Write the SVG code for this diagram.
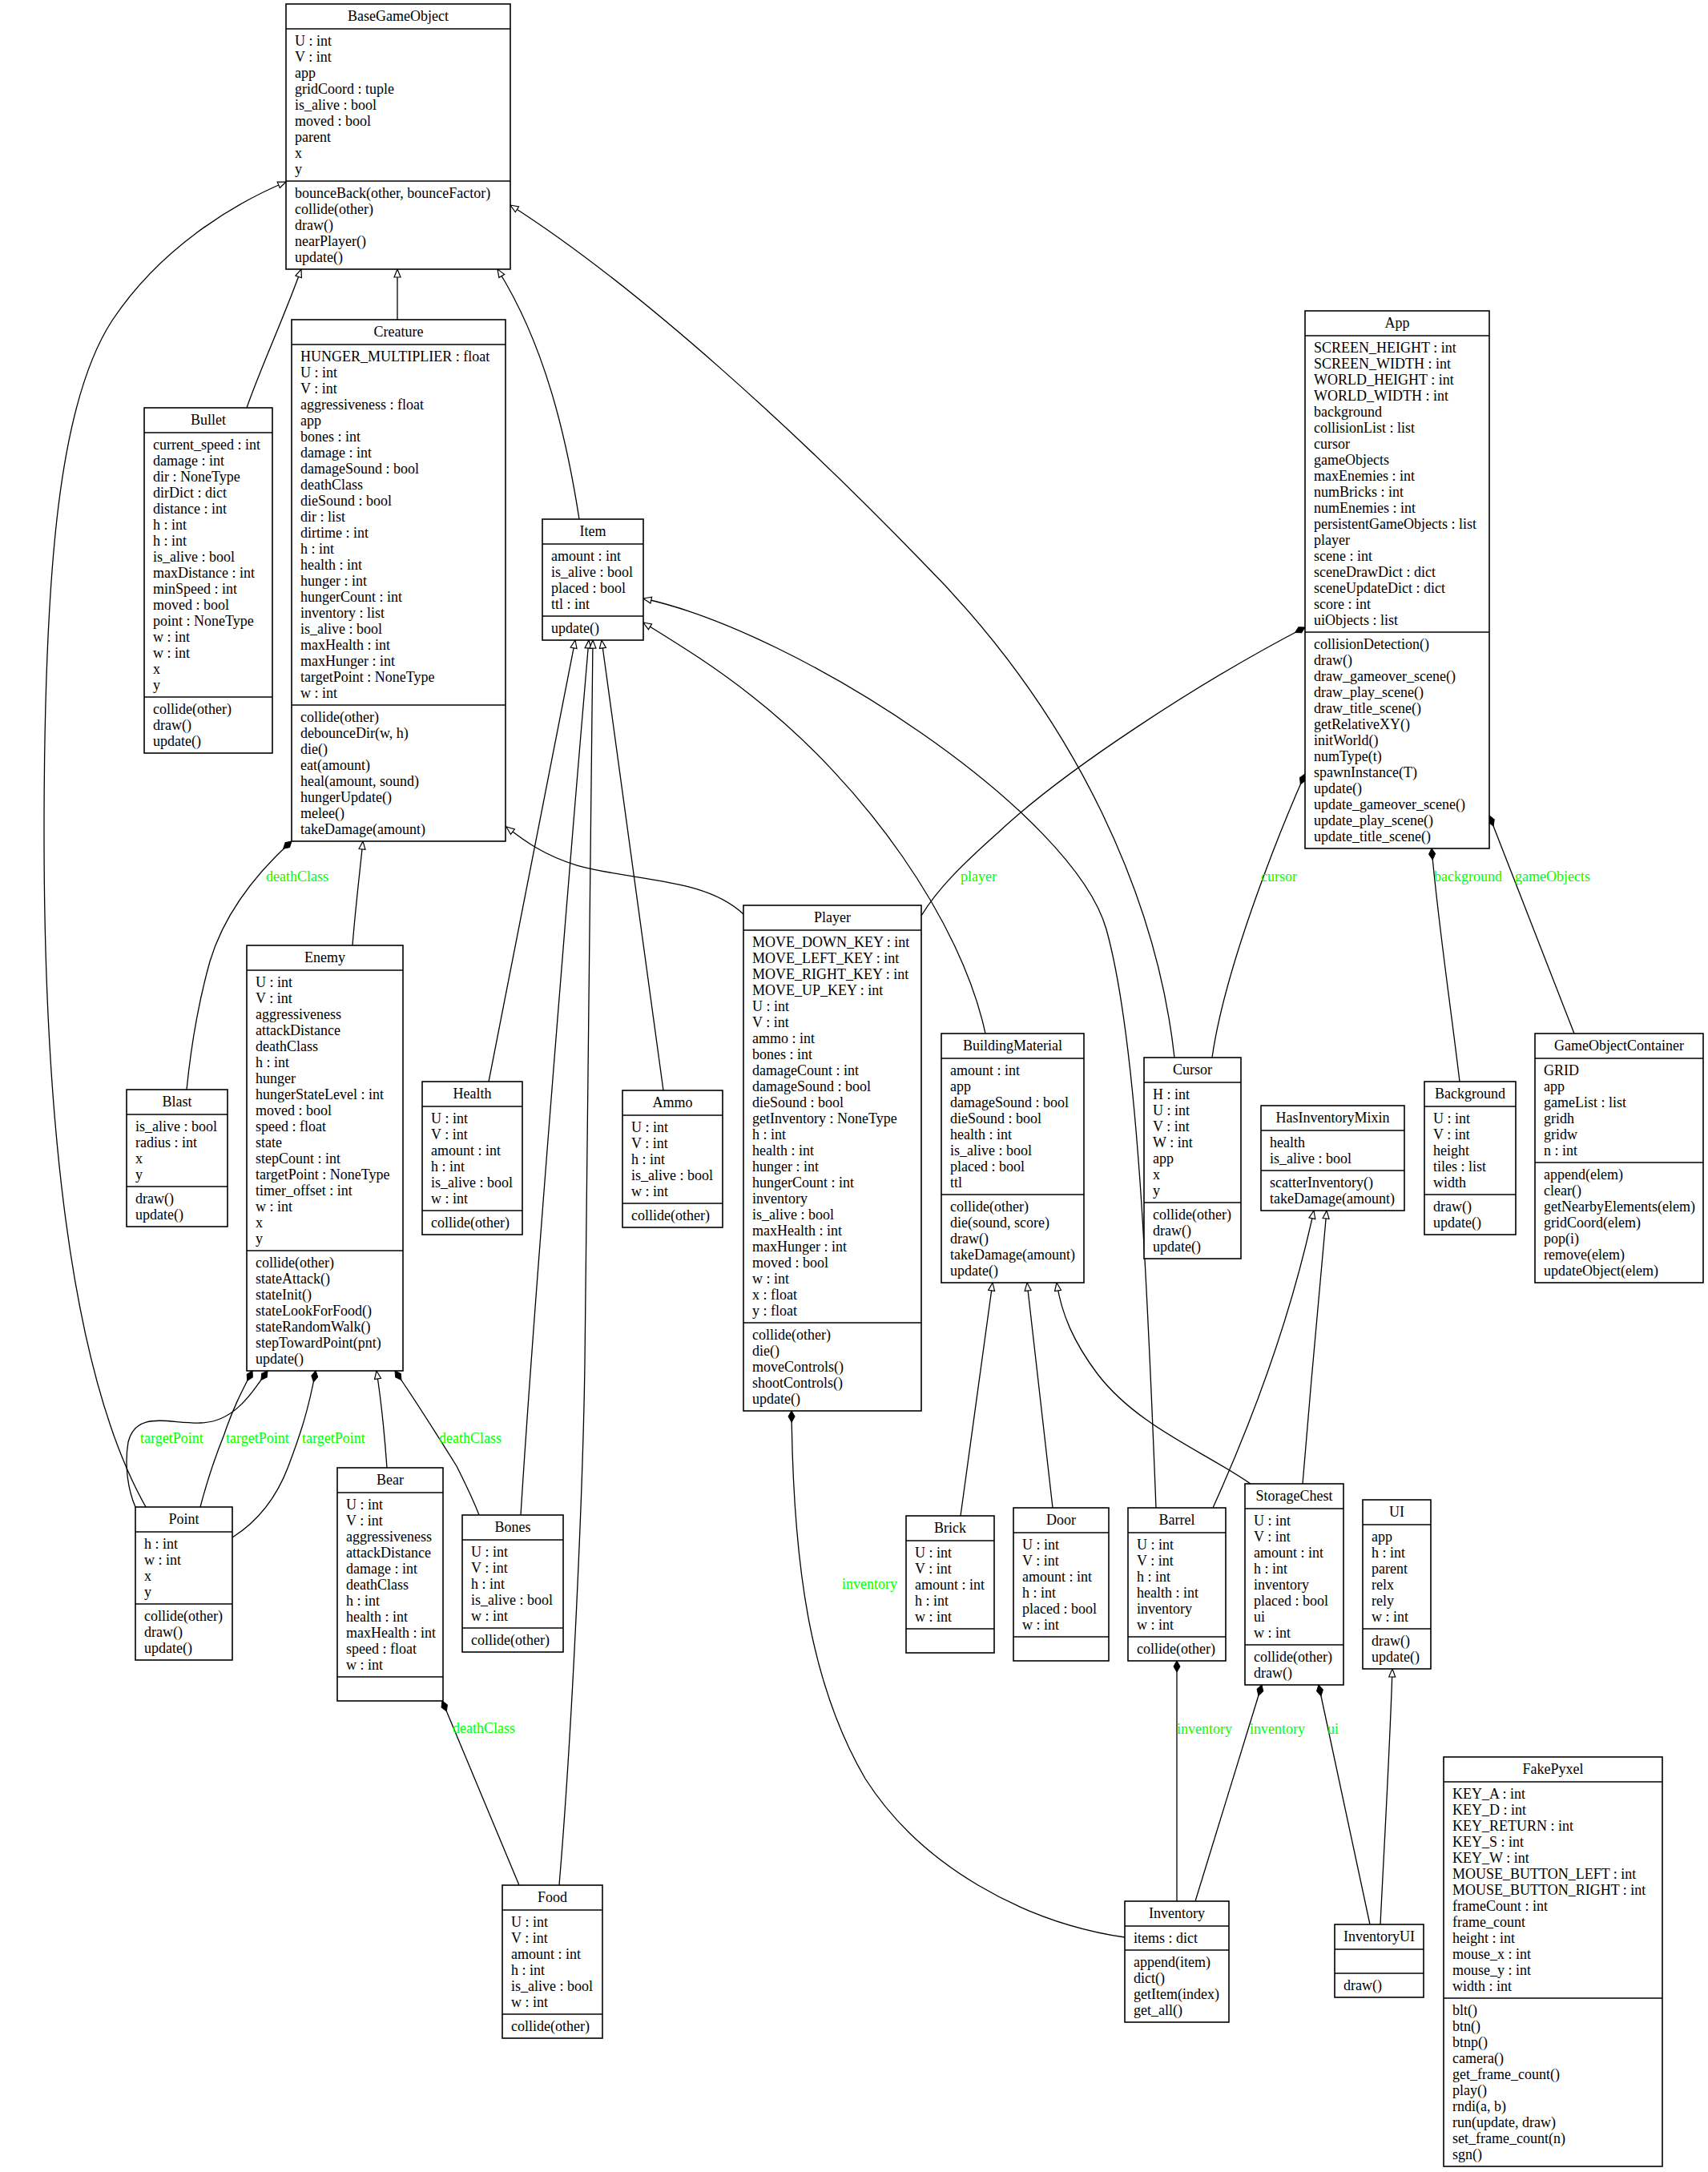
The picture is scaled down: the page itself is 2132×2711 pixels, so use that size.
<svg xmlns="http://www.w3.org/2000/svg" width="2132" height="2711" viewBox="0 0 2132 2711">
<style>
text{font-family:"Liberation Serif","Times New Roman",serif;font-size:18px;fill:#000}
.t{text-anchor:middle}
.node rect{fill:#fff;stroke:#000;stroke-width:1.6}
.node line{stroke:#000;stroke-width:1.6}
.edge path{fill:none;stroke:#000;stroke-width:1.3}
.inh path{marker-end:url(#tri)}
.comp path{marker-start:url(#dia)}
.edge text{fill:#00ff00}
</style>
<defs>
<marker id="tri" viewBox="0 0 12 10" refX="11" refY="5" markerWidth="12" markerHeight="10" markerUnits="userSpaceOnUse" orient="auto"><path d="M1,1 L11,5 L1,9 z" fill="#fff" stroke="#000" stroke-width="1.2"/></marker>
<marker id="dia" viewBox="0 0 16 10" refX="1" refY="5" markerWidth="16" markerHeight="10" markerUnits="userSpaceOnUse" orient="auto"><path d="M1,5 L8,1 L15,5 L8,9 z" fill="#000" stroke="#000" stroke-width="1"/></marker>
</defs>
<rect width="2132" height="2711" fill="#fff"/>
<g id="connectors">
<g class="edge inh" id="e-bullet-base"><path d="M308,509 C325,460 355,395 376,336"/></g>
<g class="edge inh" id="e-creature-base"><path d="M496,399 L496,336"/></g>
<g class="edge inh" id="e-item-base"><path d="M723,648 C707,545 680,430 621,336"/></g>
<g class="edge inh" id="e-point-base"><path d="M182,1881 C80,1700 55,1350 55,1040 C55,700 75,500 140,400 C200,310 290,255 357,227"/></g>
<g class="edge inh" id="e-cursor-base"><path d="M1466,1320 C1445,1130 1350,900 1150,700 C1000,545 800,360 637,256"/></g>
<g class="edge inh" id="e-enemy-creature"><path d="M440,1180 C444,1130 449,1090 453,1050"/></g>
<g class="edge inh" id="e-player-creature"><path d="M928,1141 C880,1095 790,1100 720,1080 C680,1068 655,1050 632,1032"/></g>
<g class="edge inh" id="e-bear-enemy"><path d="M483,1832 C480,1790 476,1750 470,1711"/></g>
<g class="edge inh" id="e-health-item"><path d="M610,1350 L718,799"/></g>
<g class="edge inh" id="e-bones-item"><path d="M650,1891 C665,1650 705,1150 735,799"/></g>
<g class="edge inh" id="e-food-item"><path d="M698,2353 C715,2150 728,1850 730,1700 C733,1400 738,1100 740,799"/></g>
<g class="edge inh" id="e-ammo-item"><path d="M828,1361 L751,799"/></g>
<g class="edge inh" id="e-bm-item"><path d="M1230,1290 C1200,1150 1080,980 940,870 C890,830 840,800 803,777"/></g>
<g class="edge inh" id="e-barrel-item"><path d="M1443,1882 C1432,1600 1420,1300 1381,1160 C1340,1015 1000,790 803,747"/></g>
<g class="edge inh" id="e-brick-bm"><path d="M1199,1892 L1239,1601"/></g>
<g class="edge inh" id="e-door-bm"><path d="M1314,1882 L1282,1601"/></g>
<g class="edge inh" id="e-chest-bm"><path d="M1561,1852 C1500,1810 1420,1780 1370,1715 C1340,1675 1325,1640 1319,1601"/></g>
<g class="edge inh" id="e-chest-mixin"><path d="M1626,1852 C1635,1740 1648,1600 1656,1511"/></g>
<g class="edge inh" id="e-barrel-mixin"><path d="M1514,1882 C1560,1780 1610,1650 1640,1511"/></g>
<g class="edge inh" id="e-invui-ui"><path d="M1723,2402 C1728,2300 1735,2180 1738,2083"/></g>
<g class="edge comp" id="e-creature-blast"><path d="M364,1050 C320,1090 280,1140 262,1200 C248,1250 238,1310 233,1360"/><text x="332" y="1100">deathClass</text></g>
<g class="edge comp" id="e-enemy-point1"><path d="M334,1711 C310,1745 290,1775 250,1776 C210,1777 170,1760 160,1800 C155,1830 160,1860 169,1881"/><text x="175" y="1801">targetPoint</text></g>
<g class="edge comp" id="e-enemy-point2"><path d="M315,1711 C300,1740 290,1760 280,1790 C268,1820 258,1850 250,1881"/><text x="282" y="1801">targetPoint</text></g>
<g class="edge comp" id="e-enemy-point3"><path d="M394,1711 C385,1760 375,1790 360,1830 C345,1870 320,1900 290,1919"/><text x="377" y="1801">targetPoint</text></g>
<g class="edge comp" id="e-enemy-bones"><path d="M493,1711 C520,1750 545,1790 570,1830 C580,1850 590,1870 598,1891"/><text x="548" y="1801">deathClass</text></g>
<g class="edge comp" id="e-bear-food"><path d="M552,2123 L648,2353"/><text x="565" y="2163">deathClass</text></g>
<g class="edge comp" id="e-app-player"><path d="M1629,783 C1500,850 1330,960 1245,1040 C1200,1080 1170,1110 1150,1143"/><text x="1199" y="1100">player</text></g>
<g class="edge comp" id="e-app-cursor"><path d="M1629,966 C1605,1020 1530,1200 1513,1320"/><text x="1574" y="1100">cursor</text></g>
<g class="edge comp" id="e-app-background"><path d="M1787,1059 C1795,1150 1810,1250 1822,1350"/><text x="1790" y="1100">background</text></g>
<g class="edge comp" id="e-app-goc"><path d="M1859,1018 L1965,1290"/><text x="1891" y="1100">gameObjects</text></g>
<g class="edge comp" id="e-player-inventory"><path d="M988,1761 C990,1950 1010,2100 1080,2220 C1150,2330 1280,2400 1404,2418"/><text x="1051" y="1983">inventory</text></g>
<g class="edge comp" id="e-barrel-inventory"><path d="M1469,2073 L1469,2373"/><text x="1469" y="2164">inventory</text></g>
<g class="edge comp" id="e-chest-inventory"><path d="M1575,2103 L1492,2373"/><text x="1560" y="2164">inventory</text></g>
<g class="edge comp" id="e-chest-invui"><path d="M1646,2103 L1710,2402"/><text x="1657" y="2164">ui</text></g>
</g>
<g id="BaseGameObject" class="node"><rect x="357" y="5" width="280" height="331"/><line x1="357" y1="36" x2="637" y2="36"/><line x1="357" y1="226" x2="637" y2="226"/><text class="t" x="497" y="26">BaseGameObject</text>
<text x="368" y="57"><tspan x="368">U : int</tspan><tspan x="368" dy="20">V : int</tspan><tspan x="368" dy="20">app</tspan><tspan x="368" dy="20">gridCoord : tuple</tspan><tspan x="368" dy="20">is_alive : bool</tspan><tspan x="368" dy="20">moved : bool</tspan><tspan x="368" dy="20">parent</tspan><tspan x="368" dy="20">x</tspan><tspan x="368" dy="20">y</tspan></text>
<text x="368" y="247"><tspan x="368">bounceBack(other, bounceFactor)</tspan><tspan x="368" dy="20">collide(other)</tspan><tspan x="368" dy="20">draw()</tspan><tspan x="368" dy="20">nearPlayer()</tspan><tspan x="368" dy="20">update()</tspan></text></g>
<g id="Creature" class="node"><rect x="364" y="399" width="267" height="651"/><line x1="364" y1="430" x2="631" y2="430"/><line x1="364" y1="880" x2="631" y2="880"/><text class="t" x="497.5" y="420">Creature</text>
<text x="375" y="451"><tspan x="375">HUNGER_MULTIPLIER : float</tspan><tspan x="375" dy="20">U : int</tspan><tspan x="375" dy="20">V : int</tspan><tspan x="375" dy="20">aggressiveness : float</tspan><tspan x="375" dy="20">app</tspan><tspan x="375" dy="20">bones : int</tspan><tspan x="375" dy="20">damage : int</tspan><tspan x="375" dy="20">damageSound : bool</tspan><tspan x="375" dy="20">deathClass</tspan><tspan x="375" dy="20">dieSound : bool</tspan><tspan x="375" dy="20">dir : list</tspan><tspan x="375" dy="20">dirtime : int</tspan><tspan x="375" dy="20">h : int</tspan><tspan x="375" dy="20">health : int</tspan><tspan x="375" dy="20">hunger : int</tspan><tspan x="375" dy="20">hungerCount : int</tspan><tspan x="375" dy="20">inventory : list</tspan><tspan x="375" dy="20">is_alive : bool</tspan><tspan x="375" dy="20">maxHealth : int</tspan><tspan x="375" dy="20">maxHunger : int</tspan><tspan x="375" dy="20">targetPoint : NoneType</tspan><tspan x="375" dy="20">w : int</tspan></text>
<text x="375" y="901"><tspan x="375">collide(other)</tspan><tspan x="375" dy="20">debounceDir(w, h)</tspan><tspan x="375" dy="20">die()</tspan><tspan x="375" dy="20">eat(amount)</tspan><tspan x="375" dy="20">heal(amount, sound)</tspan><tspan x="375" dy="20">hungerUpdate()</tspan><tspan x="375" dy="20">melee()</tspan><tspan x="375" dy="20">takeDamage(amount)</tspan></text></g>
<g id="Bullet" class="node"><rect x="180" y="509" width="160" height="431"/><line x1="180" y1="540" x2="340" y2="540"/><line x1="180" y1="870" x2="340" y2="870"/><text class="t" x="260" y="530">Bullet</text>
<text x="191" y="561"><tspan x="191">current_speed : int</tspan><tspan x="191" dy="20">damage : int</tspan><tspan x="191" dy="20">dir : NoneType</tspan><tspan x="191" dy="20">dirDict : dict</tspan><tspan x="191" dy="20">distance : int</tspan><tspan x="191" dy="20">h : int</tspan><tspan x="191" dy="20">h : int</tspan><tspan x="191" dy="20">is_alive : bool</tspan><tspan x="191" dy="20">maxDistance : int</tspan><tspan x="191" dy="20">minSpeed : int</tspan><tspan x="191" dy="20">moved : bool</tspan><tspan x="191" dy="20">point : NoneType</tspan><tspan x="191" dy="20">w : int</tspan><tspan x="191" dy="20">w : int</tspan><tspan x="191" dy="20">x</tspan><tspan x="191" dy="20">y</tspan></text>
<text x="191" y="891"><tspan x="191">collide(other)</tspan><tspan x="191" dy="20">draw()</tspan><tspan x="191" dy="20">update()</tspan></text></g>
<g id="Item" class="node"><rect x="677" y="648" width="126" height="151"/><line x1="677" y1="679" x2="803" y2="679"/><line x1="677" y1="769" x2="803" y2="769"/><text class="t" x="740" y="669">Item</text>
<text x="688" y="700"><tspan x="688">amount : int</tspan><tspan x="688" dy="20">is_alive : bool</tspan><tspan x="688" dy="20">placed : bool</tspan><tspan x="688" dy="20">ttl : int</tspan></text>
<text x="688" y="790">update()</text></g>
<g id="App" class="node"><rect x="1629" y="388" width="230" height="671"/><line x1="1629" y1="419" x2="1859" y2="419"/><line x1="1629" y1="789" x2="1859" y2="789"/><text class="t" x="1744" y="409">App</text>
<text x="1640" y="440"><tspan x="1640">SCREEN_HEIGHT : int</tspan><tspan x="1640" dy="20">SCREEN_WIDTH : int</tspan><tspan x="1640" dy="20">WORLD_HEIGHT : int</tspan><tspan x="1640" dy="20">WORLD_WIDTH : int</tspan><tspan x="1640" dy="20">background</tspan><tspan x="1640" dy="20">collisionList : list</tspan><tspan x="1640" dy="20">cursor</tspan><tspan x="1640" dy="20">gameObjects</tspan><tspan x="1640" dy="20">maxEnemies : int</tspan><tspan x="1640" dy="20">numBricks : int</tspan><tspan x="1640" dy="20">numEnemies : int</tspan><tspan x="1640" dy="20">persistentGameObjects : list</tspan><tspan x="1640" dy="20">player</tspan><tspan x="1640" dy="20">scene : int</tspan><tspan x="1640" dy="20">sceneDrawDict : dict</tspan><tspan x="1640" dy="20">sceneUpdateDict : dict</tspan><tspan x="1640" dy="20">score : int</tspan><tspan x="1640" dy="20">uiObjects : list</tspan></text>
<text x="1640" y="810"><tspan x="1640">collisionDetection()</tspan><tspan x="1640" dy="20">draw()</tspan><tspan x="1640" dy="20">draw_gameover_scene()</tspan><tspan x="1640" dy="20">draw_play_scene()</tspan><tspan x="1640" dy="20">draw_title_scene()</tspan><tspan x="1640" dy="20">getRelativeXY()</tspan><tspan x="1640" dy="20">initWorld()</tspan><tspan x="1640" dy="20">numType(t)</tspan><tspan x="1640" dy="20">spawnInstance(T)</tspan><tspan x="1640" dy="20">update()</tspan><tspan x="1640" dy="20">update_gameover_scene()</tspan><tspan x="1640" dy="20">update_play_scene()</tspan><tspan x="1640" dy="20">update_title_scene()</tspan></text></g>
<g id="Enemy" class="node"><rect x="308" y="1180" width="195" height="531"/><line x1="308" y1="1211" x2="503" y2="1211"/><line x1="308" y1="1561" x2="503" y2="1561"/><text class="t" x="405.5" y="1201">Enemy</text>
<text x="319" y="1232"><tspan x="319">U : int</tspan><tspan x="319" dy="20">V : int</tspan><tspan x="319" dy="20">aggressiveness</tspan><tspan x="319" dy="20">attackDistance</tspan><tspan x="319" dy="20">deathClass</tspan><tspan x="319" dy="20">h : int</tspan><tspan x="319" dy="20">hunger</tspan><tspan x="319" dy="20">hungerStateLevel : int</tspan><tspan x="319" dy="20">moved : bool</tspan><tspan x="319" dy="20">speed : float</tspan><tspan x="319" dy="20">state</tspan><tspan x="319" dy="20">stepCount : int</tspan><tspan x="319" dy="20">targetPoint : NoneType</tspan><tspan x="319" dy="20">timer_offset : int</tspan><tspan x="319" dy="20">w : int</tspan><tspan x="319" dy="20">x</tspan><tspan x="319" dy="20">y</tspan></text>
<text x="319" y="1582"><tspan x="319">collide(other)</tspan><tspan x="319" dy="20">stateAttack()</tspan><tspan x="319" dy="20">stateInit()</tspan><tspan x="319" dy="20">stateLookForFood()</tspan><tspan x="319" dy="20">stateRandomWalk()</tspan><tspan x="319" dy="20">stepTowardPoint(pnt)</tspan><tspan x="319" dy="20">update()</tspan></text></g>
<g id="Blast" class="node"><rect x="158" y="1360" width="126" height="171"/><line x1="158" y1="1391" x2="284" y2="1391"/><line x1="158" y1="1481" x2="284" y2="1481"/><text class="t" x="221" y="1381">Blast</text>
<text x="169" y="1412"><tspan x="169">is_alive : bool</tspan><tspan x="169" dy="20">radius : int</tspan><tspan x="169" dy="20">x</tspan><tspan x="169" dy="20">y</tspan></text>
<text x="169" y="1502"><tspan x="169">draw()</tspan><tspan x="169" dy="20">update()</tspan></text></g>
<g id="Point" class="node"><rect x="169" y="1881" width="121" height="191"/><line x1="169" y1="1912" x2="290" y2="1912"/><line x1="169" y1="2002" x2="290" y2="2002"/><text class="t" x="229.5" y="1902">Point</text>
<text x="180" y="1933"><tspan x="180">h : int</tspan><tspan x="180" dy="20">w : int</tspan><tspan x="180" dy="20">x</tspan><tspan x="180" dy="20">y</tspan></text>
<text x="180" y="2023"><tspan x="180">collide(other)</tspan><tspan x="180" dy="20">draw()</tspan><tspan x="180" dy="20">update()</tspan></text></g>
<g id="Player" class="node"><rect x="928" y="1130" width="222" height="631"/><line x1="928" y1="1161" x2="1150" y2="1161"/><line x1="928" y1="1651" x2="1150" y2="1651"/><text class="t" x="1039" y="1151">Player</text>
<text x="939" y="1182"><tspan x="939">MOVE_DOWN_KEY : int</tspan><tspan x="939" dy="20">MOVE_LEFT_KEY : int</tspan><tspan x="939" dy="20">MOVE_RIGHT_KEY : int</tspan><tspan x="939" dy="20">MOVE_UP_KEY : int</tspan><tspan x="939" dy="20">U : int</tspan><tspan x="939" dy="20">V : int</tspan><tspan x="939" dy="20">ammo : int</tspan><tspan x="939" dy="20">bones : int</tspan><tspan x="939" dy="20">damageCount : int</tspan><tspan x="939" dy="20">damageSound : bool</tspan><tspan x="939" dy="20">dieSound : bool</tspan><tspan x="939" dy="20">getInventory : NoneType</tspan><tspan x="939" dy="20">h : int</tspan><tspan x="939" dy="20">health : int</tspan><tspan x="939" dy="20">hunger : int</tspan><tspan x="939" dy="20">hungerCount : int</tspan><tspan x="939" dy="20">inventory</tspan><tspan x="939" dy="20">is_alive : bool</tspan><tspan x="939" dy="20">maxHealth : int</tspan><tspan x="939" dy="20">maxHunger : int</tspan><tspan x="939" dy="20">moved : bool</tspan><tspan x="939" dy="20">w : int</tspan><tspan x="939" dy="20">x : float</tspan><tspan x="939" dy="20">y : float</tspan></text>
<text x="939" y="1672"><tspan x="939">collide(other)</tspan><tspan x="939" dy="20">die()</tspan><tspan x="939" dy="20">moveControls()</tspan><tspan x="939" dy="20">shootControls()</tspan><tspan x="939" dy="20">update()</tspan></text></g>
<g id="Health" class="node"><rect x="527" y="1350" width="125" height="191"/><line x1="527" y1="1381" x2="652" y2="1381"/><line x1="527" y1="1511" x2="652" y2="1511"/><text class="t" x="589.5" y="1371">Health</text>
<text x="538" y="1402"><tspan x="538">U : int</tspan><tspan x="538" dy="20">V : int</tspan><tspan x="538" dy="20">amount : int</tspan><tspan x="538" dy="20">h : int</tspan><tspan x="538" dy="20">is_alive : bool</tspan><tspan x="538" dy="20">w : int</tspan></text>
<text x="538" y="1532">collide(other)</text></g>
<g id="Ammo" class="node"><rect x="777" y="1361" width="125" height="171"/><line x1="777" y1="1392" x2="902" y2="1392"/><line x1="777" y1="1502" x2="902" y2="1502"/><text class="t" x="839.5" y="1382">Ammo</text>
<text x="788" y="1413"><tspan x="788">U : int</tspan><tspan x="788" dy="20">V : int</tspan><tspan x="788" dy="20">h : int</tspan><tspan x="788" dy="20">is_alive : bool</tspan><tspan x="788" dy="20">w : int</tspan></text>
<text x="788" y="1523">collide(other)</text></g>
<g id="BuildingMaterial" class="node"><rect x="1175" y="1290" width="178" height="311"/><line x1="1175" y1="1321" x2="1353" y2="1321"/><line x1="1175" y1="1491" x2="1353" y2="1491"/><text class="t" x="1264" y="1311">BuildingMaterial</text>
<text x="1186" y="1342"><tspan x="1186">amount : int</tspan><tspan x="1186" dy="20">app</tspan><tspan x="1186" dy="20">damageSound : bool</tspan><tspan x="1186" dy="20">dieSound : bool</tspan><tspan x="1186" dy="20">health : int</tspan><tspan x="1186" dy="20">is_alive : bool</tspan><tspan x="1186" dy="20">placed : bool</tspan><tspan x="1186" dy="20">ttl</tspan></text>
<text x="1186" y="1512"><tspan x="1186">collide(other)</tspan><tspan x="1186" dy="20">die(sound, score)</tspan><tspan x="1186" dy="20">draw()</tspan><tspan x="1186" dy="20">takeDamage(amount)</tspan><tspan x="1186" dy="20">update()</tspan></text></g>
<g id="Cursor" class="node"><rect x="1428" y="1320" width="121" height="251"/><line x1="1428" y1="1351" x2="1549" y2="1351"/><line x1="1428" y1="1501" x2="1549" y2="1501"/><text class="t" x="1488.5" y="1341">Cursor</text>
<text x="1439" y="1372"><tspan x="1439">H : int</tspan><tspan x="1439" dy="20">U : int</tspan><tspan x="1439" dy="20">V : int</tspan><tspan x="1439" dy="20">W : int</tspan><tspan x="1439" dy="20">app</tspan><tspan x="1439" dy="20">x</tspan><tspan x="1439" dy="20">y</tspan></text>
<text x="1439" y="1522"><tspan x="1439">collide(other)</tspan><tspan x="1439" dy="20">draw()</tspan><tspan x="1439" dy="20">update()</tspan></text></g>
<g id="HasInventoryMixin" class="node"><rect x="1574" y="1380" width="179" height="131"/><line x1="1574" y1="1411" x2="1753" y2="1411"/><line x1="1574" y1="1461" x2="1753" y2="1461"/><text class="t" x="1663.5" y="1401">HasInventoryMixin</text>
<text x="1585" y="1432"><tspan x="1585">health</tspan><tspan x="1585" dy="20">is_alive : bool</tspan></text>
<text x="1585" y="1482"><tspan x="1585">scatterInventory()</tspan><tspan x="1585" dy="20">takeDamage(amount)</tspan></text></g>
<g id="Background" class="node"><rect x="1778" y="1350" width="114" height="191"/><line x1="1778" y1="1381" x2="1892" y2="1381"/><line x1="1778" y1="1491" x2="1892" y2="1491"/><text class="t" x="1835" y="1371">Background</text>
<text x="1789" y="1402"><tspan x="1789">U : int</tspan><tspan x="1789" dy="20">V : int</tspan><tspan x="1789" dy="20">height</tspan><tspan x="1789" dy="20">tiles : list</tspan><tspan x="1789" dy="20">width</tspan></text>
<text x="1789" y="1512"><tspan x="1789">draw()</tspan><tspan x="1789" dy="20">update()</tspan></text></g>
<g id="GameObjectContainer" class="node"><rect x="1916" y="1290" width="210" height="311"/><line x1="1916" y1="1321" x2="2126" y2="1321"/><line x1="1916" y1="1451" x2="2126" y2="1451"/><text class="t" x="2021" y="1311">GameObjectContainer</text>
<text x="1927" y="1342"><tspan x="1927">GRID</tspan><tspan x="1927" dy="20">app</tspan><tspan x="1927" dy="20">gameList : list</tspan><tspan x="1927" dy="20">gridh</tspan><tspan x="1927" dy="20">gridw</tspan><tspan x="1927" dy="20">n : int</tspan></text>
<text x="1927" y="1472"><tspan x="1927">append(elem)</tspan><tspan x="1927" dy="20">clear()</tspan><tspan x="1927" dy="20">getNearbyElements(elem)</tspan><tspan x="1927" dy="20">gridCoord(elem)</tspan><tspan x="1927" dy="20">pop(i)</tspan><tspan x="1927" dy="20">remove(elem)</tspan><tspan x="1927" dy="20">updateObject(elem)</tspan></text></g>
<g id="Bear" class="node"><rect x="421" y="1832" width="132" height="291"/><line x1="421" y1="1863" x2="553" y2="1863"/><line x1="421" y1="2093" x2="553" y2="2093"/><text class="t" x="487" y="1853">Bear</text>
<text x="432" y="1884"><tspan x="432">U : int</tspan><tspan x="432" dy="20">V : int</tspan><tspan x="432" dy="20">aggressiveness</tspan><tspan x="432" dy="20">attackDistance</tspan><tspan x="432" dy="20">damage : int</tspan><tspan x="432" dy="20">deathClass</tspan><tspan x="432" dy="20">h : int</tspan><tspan x="432" dy="20">health : int</tspan><tspan x="432" dy="20">maxHealth : int</tspan><tspan x="432" dy="20">speed : float</tspan><tspan x="432" dy="20">w : int</tspan></text></g>
<g id="Bones" class="node"><rect x="577" y="1891" width="126" height="171"/><line x1="577" y1="1922" x2="703" y2="1922"/><line x1="577" y1="2032" x2="703" y2="2032"/><text class="t" x="640" y="1912">Bones</text>
<text x="588" y="1943"><tspan x="588">U : int</tspan><tspan x="588" dy="20">V : int</tspan><tspan x="588" dy="20">h : int</tspan><tspan x="588" dy="20">is_alive : bool</tspan><tspan x="588" dy="20">w : int</tspan></text>
<text x="588" y="2053">collide(other)</text></g>
<g id="Food" class="node"><rect x="627" y="2353" width="125" height="191"/><line x1="627" y1="2384" x2="752" y2="2384"/><line x1="627" y1="2514" x2="752" y2="2514"/><text class="t" x="689.5" y="2374">Food</text>
<text x="638" y="2405"><tspan x="638">U : int</tspan><tspan x="638" dy="20">V : int</tspan><tspan x="638" dy="20">amount : int</tspan><tspan x="638" dy="20">h : int</tspan><tspan x="638" dy="20">is_alive : bool</tspan><tspan x="638" dy="20">w : int</tspan></text>
<text x="638" y="2535">collide(other)</text></g>
<g id="Brick" class="node"><rect x="1131" y="1892" width="110" height="171"/><line x1="1131" y1="1923" x2="1241" y2="1923"/><line x1="1131" y1="2033" x2="1241" y2="2033"/><text class="t" x="1186" y="1913">Brick</text>
<text x="1142" y="1944"><tspan x="1142">U : int</tspan><tspan x="1142" dy="20">V : int</tspan><tspan x="1142" dy="20">amount : int</tspan><tspan x="1142" dy="20">h : int</tspan><tspan x="1142" dy="20">w : int</tspan></text></g>
<g id="Door" class="node"><rect x="1265" y="1882" width="119" height="191"/><line x1="1265" y1="1913" x2="1384" y2="1913"/><line x1="1265" y1="2043" x2="1384" y2="2043"/><text class="t" x="1324.5" y="1903">Door</text>
<text x="1276" y="1934"><tspan x="1276">U : int</tspan><tspan x="1276" dy="20">V : int</tspan><tspan x="1276" dy="20">amount : int</tspan><tspan x="1276" dy="20">h : int</tspan><tspan x="1276" dy="20">placed : bool</tspan><tspan x="1276" dy="20">w : int</tspan></text></g>
<g id="Barrel" class="node"><rect x="1408" y="1882" width="122" height="191"/><line x1="1408" y1="1913" x2="1530" y2="1913"/><line x1="1408" y1="2043" x2="1530" y2="2043"/><text class="t" x="1469" y="1903">Barrel</text>
<text x="1419" y="1934"><tspan x="1419">U : int</tspan><tspan x="1419" dy="20">V : int</tspan><tspan x="1419" dy="20">h : int</tspan><tspan x="1419" dy="20">health : int</tspan><tspan x="1419" dy="20">inventory</tspan><tspan x="1419" dy="20">w : int</tspan></text>
<text x="1419" y="2064">collide(other)</text></g>
<g id="StorageChest" class="node"><rect x="1554" y="1852" width="123" height="251"/><line x1="1554" y1="1883" x2="1677" y2="1883"/><line x1="1554" y1="2053" x2="1677" y2="2053"/><text class="t" x="1615.5" y="1873">StorageChest</text>
<text x="1565" y="1904"><tspan x="1565">U : int</tspan><tspan x="1565" dy="20">V : int</tspan><tspan x="1565" dy="20">amount : int</tspan><tspan x="1565" dy="20">h : int</tspan><tspan x="1565" dy="20">inventory</tspan><tspan x="1565" dy="20">placed : bool</tspan><tspan x="1565" dy="20">ui</tspan><tspan x="1565" dy="20">w : int</tspan></text>
<text x="1565" y="2074"><tspan x="1565">collide(other)</tspan><tspan x="1565" dy="20">draw()</tspan></text></g>
<g id="UI" class="node"><rect x="1701" y="1872" width="85" height="211"/><line x1="1701" y1="1903" x2="1786" y2="1903"/><line x1="1701" y1="2033" x2="1786" y2="2033"/><text class="t" x="1743.5" y="1893">UI</text>
<text x="1712" y="1924"><tspan x="1712">app</tspan><tspan x="1712" dy="20">h : int</tspan><tspan x="1712" dy="20">parent</tspan><tspan x="1712" dy="20">relx</tspan><tspan x="1712" dy="20">rely</tspan><tspan x="1712" dy="20">w : int</tspan></text>
<text x="1712" y="2054"><tspan x="1712">draw()</tspan><tspan x="1712" dy="20">update()</tspan></text></g>
<g id="Inventory" class="node"><rect x="1404" y="2373" width="130" height="151"/><line x1="1404" y1="2404" x2="1534" y2="2404"/><line x1="1404" y1="2434" x2="1534" y2="2434"/><text class="t" x="1469" y="2394">Inventory</text>
<text x="1415" y="2425">items : dict</text>
<text x="1415" y="2455"><tspan x="1415">append(item)</tspan><tspan x="1415" dy="20">dict()</tspan><tspan x="1415" dy="20">getItem(index)</tspan><tspan x="1415" dy="20">get_all()</tspan></text></g>
<g id="InventoryUI" class="node"><rect x="1666" y="2402" width="111" height="91"/><line x1="1666" y1="2433" x2="1777" y2="2433"/><line x1="1666" y1="2463" x2="1777" y2="2463"/><text class="t" x="1721.5" y="2423">InventoryUI</text>
<text x="1677" y="2484">draw()</text></g>
<g id="FakePyxel" class="node"><rect x="1802" y="2193" width="273" height="511"/><line x1="1802" y1="2224" x2="2075" y2="2224"/><line x1="1802" y1="2494" x2="2075" y2="2494"/><text class="t" x="1938.5" y="2214">FakePyxel</text>
<text x="1813" y="2245"><tspan x="1813">KEY_A : int</tspan><tspan x="1813" dy="20">KEY_D : int</tspan><tspan x="1813" dy="20">KEY_RETURN : int</tspan><tspan x="1813" dy="20">KEY_S : int</tspan><tspan x="1813" dy="20">KEY_W : int</tspan><tspan x="1813" dy="20">MOUSE_BUTTON_LEFT : int</tspan><tspan x="1813" dy="20">MOUSE_BUTTON_RIGHT : int</tspan><tspan x="1813" dy="20">frameCount : int</tspan><tspan x="1813" dy="20">frame_count</tspan><tspan x="1813" dy="20">height : int</tspan><tspan x="1813" dy="20">mouse_x : int</tspan><tspan x="1813" dy="20">mouse_y : int</tspan><tspan x="1813" dy="20">width : int</tspan></text>
<text x="1813" y="2515"><tspan x="1813">blt()</tspan><tspan x="1813" dy="20">btn()</tspan><tspan x="1813" dy="20">btnp()</tspan><tspan x="1813" dy="20">camera()</tspan><tspan x="1813" dy="20">get_frame_count()</tspan><tspan x="1813" dy="20">play()</tspan><tspan x="1813" dy="20">rndi(a, b)</tspan><tspan x="1813" dy="20">run(update, draw)</tspan><tspan x="1813" dy="20">set_frame_count(n)</tspan><tspan x="1813" dy="20">sgn()</tspan></text></g>
</svg>
